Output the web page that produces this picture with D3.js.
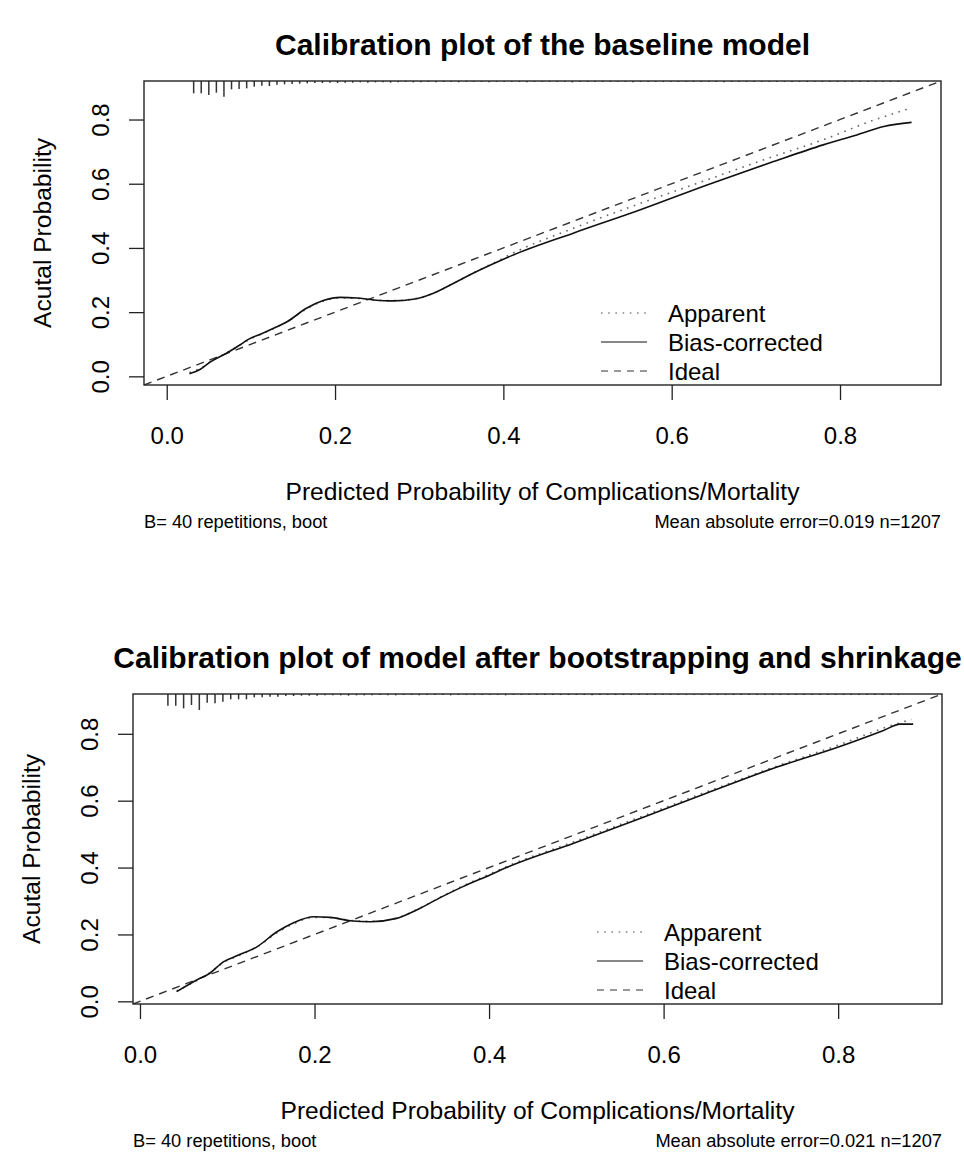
<!DOCTYPE html>
<html>
<head>
<meta charset="utf-8">
<script src="https://cdn.jsdelivr.net/npm/d3@7"></script>
<style>
    body { margin: 0; background: #fff; }
    svg { display: block; }
    text { font-family: "Liberation Sans", Arial, sans-serif; fill: #000; }
</style>
</head>
<body>
<div id="chart"></div>
<script>
// ---- data ----
var ticks = [0, 0.2, 0.4, 0.6, 0.8];
var legendLabels = ["Apparent", "Bias-corrected", "Ideal"];

// baseline model
var base_x = [0.027, 0.04, 0.052, 0.071, 0.087, 0.097, 0.112, 0.127, 0.143, 0.166, 0.186, 0.206, 0.226, 0.246, 0.269, 0.293, 0.317, 0.341, 0.364, 0.396, 0.41, 0.483, 0.562, 0.642, 0.721, 0.78, 0.82, 0.852, 0.885];
var base_bias = [0.008, 0.022, 0.045, 0.072, 0.098, 0.115, 0.132, 0.15, 0.17, 0.212, 0.236, 0.246, 0.244, 0.238, 0.235, 0.24, 0.259, 0.29, 0.321, 0.36, 0.376, 0.446, 0.518, 0.596, 0.669, 0.721, 0.752, 0.778, 0.791];
var base_app_x = [0.027, 0.04, 0.052, 0.071, 0.087, 0.097, 0.112, 0.127, 0.143, 0.166, 0.186, 0.206, 0.226, 0.246, 0.269, 0.293, 0.317, 0.341, 0.364, 0.396, 0.41, 0.483, 0.562, 0.642, 0.721, 0.78, 0.84, 0.881];
var base_app = [0.012, 0.025, 0.046, 0.073, 0.097, 0.113, 0.131, 0.149, 0.17, 0.21, 0.234, 0.244, 0.243, 0.238, 0.236, 0.241, 0.259, 0.29, 0.322, 0.363, 0.382, 0.461, 0.538, 0.612, 0.685, 0.737, 0.798, 0.833];

// model after bootstrapping and shrinkage
var shr_x = [0.042, 0.065, 0.08, 0.0955, 0.111, 0.134, 0.157, 0.176, 0.199, 0.218, 0.241, 0.264, 0.294, 0.317, 0.344, 0.37, 0.401, 0.42, 0.497, 0.573, 0.649, 0.726, 0.802, 0.852, 0.871, 0.886];
var shr_bias = [0.029, 0.064, 0.084, 0.118, 0.136, 0.163, 0.208, 0.235, 0.253, 0.251, 0.241, 0.238, 0.248, 0.273, 0.31, 0.343, 0.378, 0.4, 0.473, 0.547, 0.622, 0.697, 0.762, 0.81, 0.829, 0.829];
var shr_app_x = [0.042, 0.065, 0.08, 0.0955, 0.111, 0.134, 0.157, 0.176, 0.199, 0.218, 0.241, 0.264, 0.294, 0.317, 0.344, 0.37, 0.401, 0.42, 0.497, 0.573, 0.649, 0.726, 0.802, 0.852, 0.884];
var shr_app = [0.031, 0.062, 0.085, 0.116, 0.134, 0.162, 0.205, 0.232, 0.251, 0.25, 0.242, 0.239, 0.249, 0.274, 0.311, 0.345, 0.381, 0.403, 0.477, 0.551, 0.626, 0.7, 0.768, 0.817, 0.843];

// distribution of predicted risk (spike histogram at the top), bins of 0.009 from 0.032
var spikeStart = 0.032, spikeStep = 0.009;
var base_spikes = [37, 37, 42, 35, 47, 25, 24, 22, 17, 14, 15, 11, 10, 9, 8, 7, 6, 6, 5, 6, 5, 5, 4, 5, 4, 4, 5, 4, 3, 4, 4, 3, 4, 3, 3, 4, 3, 3, 3, 4, 3, 3, 3, 3, 4, 3, 3, 3, 3, 3, 4, 3, 3, 3, 3, 3, 3, 3, 4, 3, 3, 3, 3, 3, 3, 3, 3, 3, 3, 3, 4, 3, 3, 3, 3, 3, 3, 3, 3, 3, 3, 3, 3, 3, 3, 3, 3, 3, 3, 3, 3, 3, 3, 3];
var shr_spikes = [35, 35, 43, 33, 48, 26, 28, 23, 16, 16, 16, 10, 10, 8, 8, 6, 6, 5, 5, 5, 4, 4, 4, 5, 4, 4, 4, 3, 4, 4, 3, 3, 4, 3, 3, 3, 4, 3, 3, 3, 3, 3, 3, 4, 3, 3, 3, 3, 3, 3, 3, 3, 3, 3, 4, 3, 3, 3, 3, 3, 3, 3, 3, 3, 3, 3, 3, 3, 3, 3, 3, 3, 3, 3, 3, 3, 3, 3, 3, 3, 3, 3, 3, 3, 3, 3, 3, 3, 3, 3, 3, 3, 3, 3];

var panels = [
    {
        title: "Calibration plot of the baseline model",
        left: 144, right: 941, top: 81, bottom: 385,
        domain: [-0.027, 0.920],
        biasX: base_x, bias: base_bias, appX: base_app_x, app: base_app,
        spikes: base_spikes,
        sub: "Mean absolute error=0.019 n=1207",
        legendX: 601
    },
    {
        title: "Calibration plot of model after bootstrapping and shrinkage",
        left: 133, right: 942, top: 694, bottom: 1004,
        domain: [-0.008, 0.919],
        biasX: shr_x, bias: shr_bias, appX: shr_app_x, app: shr_app,
        spikes: shr_spikes,
        sub: "Mean absolute error=0.021 n=1207",
        legendX: 597
    }
];

var svg = d3.select("#chart")
    .append("svg")
    .attr("width", 964)
    .attr("height", 1156);

var fmt = d3.format(".1f");

panels.forEach(function (p) {
    var x = d3.scaleLinear().domain(p.domain).range([p.left, p.right]);
    var y = d3.scaleLinear().domain(p.domain).range([p.bottom, p.top]);
    var g = svg.append("g");

    // clip to the plot box
    var clipId = "clip" + p.top;
    g.append("clipPath").attr("id", clipId)
        .append("rect")
        .attr("x", p.left).attr("y", p.top)
        .attr("width", p.right - p.left).attr("height", p.bottom - p.top);

    // x axis
    var xa = g.append("g")
        .attr("transform", "translate(0," + p.bottom + ")")
        .call(d3.axisBottom(x).tickValues(ticks).tickFormat(fmt).tickSize(15));
    xa.select(".domain").remove();
    xa.selectAll("line").attr("stroke", "#222").attr("stroke-width", 1.3);
    xa.selectAll("text")
        .attr("y", 59).attr("dy", 0)
        .style("font-size", "24px")
        .style("font-family", "'Liberation Sans', Arial, sans-serif")
        .attr("fill", "#000");

    // y axis, labels parallel to the axis
    var ya = g.append("g")
        .attr("transform", "translate(" + p.left + ",0)")
        .call(d3.axisLeft(y).tickValues(ticks).tickFormat(fmt).tickSize(15));
    ya.select(".domain").remove();
    ya.selectAll("line").attr("stroke", "#222").attr("stroke-width", 1.3);
    ya.selectAll("text")
        .attr("x", 0).attr("dy", 0)
        .attr("text-anchor", "middle")
        .attr("transform", "translate(-35.4,0) rotate(-90)")
        .style("font-size", "24px")
        .style("font-family", "'Liberation Sans', Arial, sans-serif")
        .attr("fill", "#000");

    var plot = g.append("g").attr("clip-path", "url(#" + clipId + ")");

    // ideal line
    plot.append("line")
        .attr("x1", x(p.domain[0])).attr("y1", y(p.domain[0]))
        .attr("x2", x(p.domain[1])).attr("y2", y(p.domain[1]))
        .attr("stroke", "#333")
        .attr("stroke-width", 1.4)
        .attr("stroke-dasharray", "8,6");

    var line = d3.line()
        .x(function (d) { return x(d[0]); })
        .y(function (d) { return y(d[1]); })
        .curve(d3.curveMonotoneX);

    // apparent (dotted)
    plot.append("path")
        .datum(d3.zip(p.appX, p.app))
        .attr("d", line)
        .attr("fill", "none")
        .attr("stroke", "#666")
        .attr("stroke-width", 1.6)
        .attr("stroke-dasharray", "1.6,5.6");

    // bias-corrected (solid)
    plot.append("path")
        .datum(d3.zip(p.biasX, p.bias))
        .attr("d", line)
        .attr("fill", "none")
        .attr("stroke", "#111")
        .attr("stroke-width", 1.6);

    // risk distribution spikes hanging from the top
    var h = d3.scaleLinear().domain([0, 48]).range([0, 16]);
    plot.selectAll(".spike")
        .data(p.spikes)
        .enter()
        .append("line")
        .attr("x1", function (d, i) { return x(spikeStart + i * spikeStep); })
        .attr("x2", function (d, i) { return x(spikeStart + i * spikeStep); })
        .attr("y1", p.top)
        .attr("y2", function (d) { return p.top + h(d); })
        .attr("stroke", "#333")
        .attr("stroke-width", 1.5);

    // plot box
    g.append("rect")
        .attr("x", p.left).attr("y", p.top)
        .attr("width", p.right - p.left).attr("height", p.bottom - p.top)
        .attr("fill", "none")
        .attr("stroke", "#222")
        .attr("stroke-width", 1.4);

    // legend
    var styles = [
        { dash: "1.6,5.6", w: 1.6, c: "#888" },
        { dash: null, w: 2, c: "#888" },
        { dash: "7,6", w: 1.4, c: "#777" }
    ];
    legendLabels.forEach(function (lab, i) {
        var ly = p.bottom - 72 + i * 29;
        var l = g.append("line")
            .attr("x1", p.legendX).attr("x2", p.legendX + 46)
            .attr("y1", ly).attr("y2", ly)
            .attr("stroke", styles[i].c)
            .attr("stroke-width", styles[i].w);
        if (styles[i].dash) l.attr("stroke-dasharray", styles[i].dash);
        g.append("text")
            .attr("x", p.legendX + 67).attr("y", ly + 8.5)
            .style("font-size", "24px")
            .text(lab);
    });

    // titles
    g.append("text")
        .attr("x", (p.left + p.right) / 2).attr("y", p.top - 26)
        .attr("text-anchor", "middle")
        .style("font-size", "30px").style("font-weight", "bold")
        .text(p.title);

    g.append("text")
        .attr("x", (p.left + p.right) / 2).attr("y", p.bottom + 115)
        .attr("text-anchor", "middle")
        .style("font-size", "24.6px")
        .text("Predicted Probability of Complications/Mortality");

    g.append("text")
        .attr("transform", "translate(" + (p.left - 93.4) + "," + ((p.top + p.bottom) / 2) + ") rotate(-90)")
        .attr("text-anchor", "middle")
        .style("font-size", "24.6px")
        .text("Acutal Probability");

    g.append("text")
        .attr("x", p.left).attr("y", p.bottom + 143)
        .style("font-size", "18.3px")
        .text("B= 40 repetitions, boot");

    g.append("text")
        .attr("x", p.right).attr("y", p.bottom + 143)
        .attr("text-anchor", "end")
        .style("font-size", "18.3px")
        .text(p.sub);
});
</script>
</body>
</html>
